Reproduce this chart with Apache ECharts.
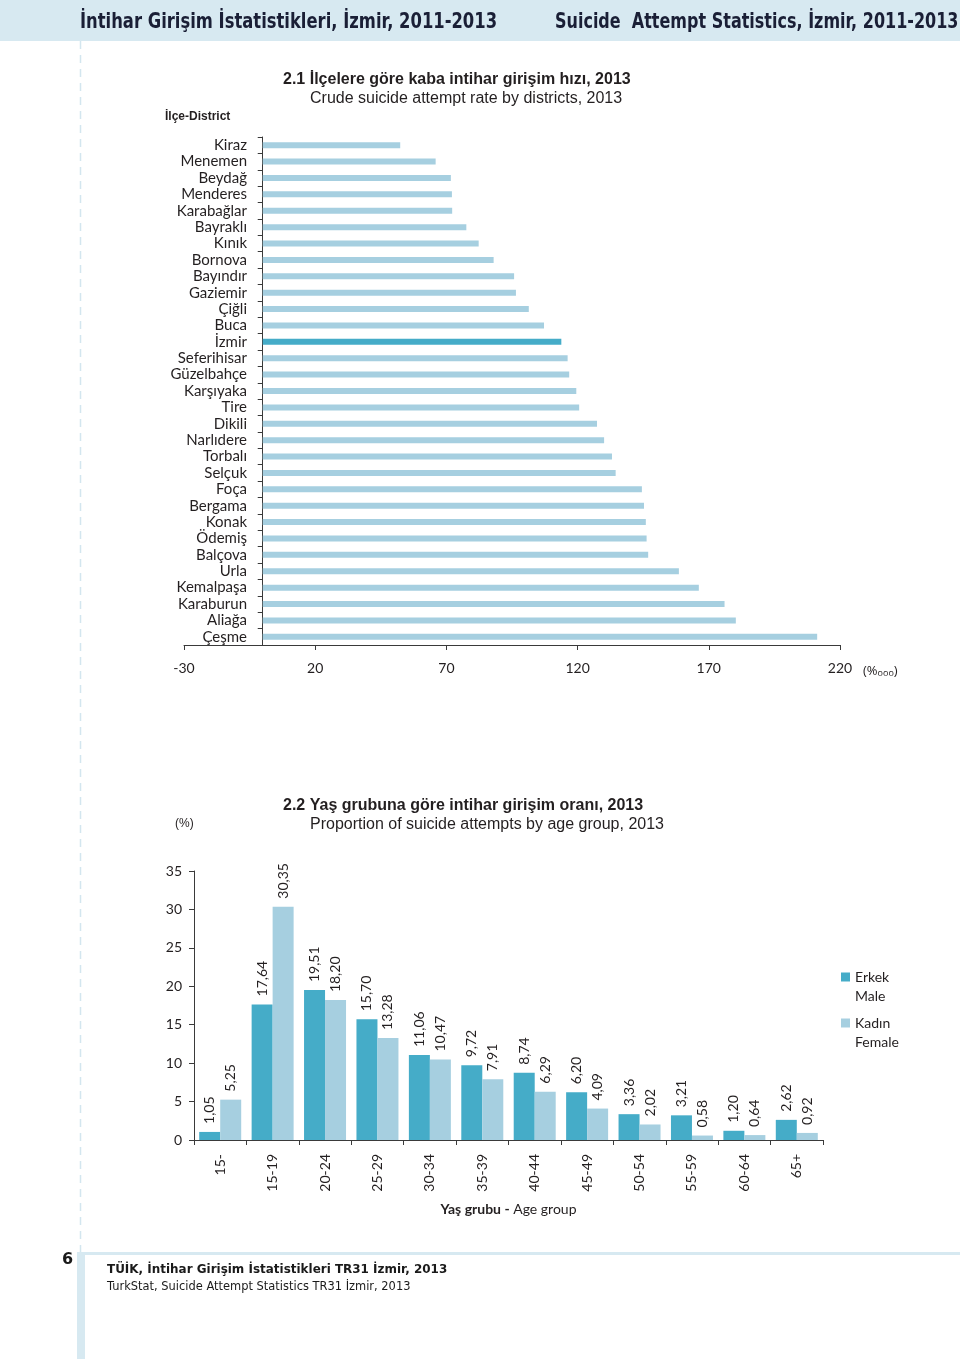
<!DOCTYPE html>
<html>
<head>
<meta charset="utf-8">
<script src="https://cdn.jsdelivr.net/npm/echarts@6/dist/echarts.min.js"></script>
<style>
html,body{margin:0;padding:0;background:#fff;}
#main{width:960px;height:1359px;}
</style>
</head>
<body>
<div id="main"></div>
<script>
// ---- Chart 2.1 data ----
const districts = ['Kiraz','Menemen','Beydağ','Menderes','Karabağlar','Bayraklı','Kınık','Bornova','Bayındır','Gaziemir','Çiğli','Buca','İzmir','Seferihisar','Güzelbahçe','Karşıyaka','Tire','Dikili','Narlıdere','Torbalı','Selçuk','Foça','Bergama','Konak','Ödemiş','Balçova','Urla','Kemalpaşa','Karaburun','Aliağa','Çeşme'];
const rates = [52.4,65.9,71.7,72.1,72.2,77.6,82.3,88.0,95.8,96.5,101.4,107.2,113.8,116.2,116.8,119.5,120.6,127.4,130.1,133.1,134.5,144.5,145.3,146.0,146.3,146.9,158.6,166.2,176.0,180.3,211.3];
const highlightDistrict = 'İzmir';
const rateAxisMin = -30, rateAxisMax = 220, rateAxisStep = 50;

// ---- Chart 2.2 data ----
const ageGroups = ['15-','15-19','20-24','25-29','30-34','35-39','40-44','45-49','50-54','55-59','60-64','65+'];
const male = [1.05,17.64,19.51,15.70,11.06,9.72,8.74,6.20,3.36,3.21,1.20,2.62];
const female = [5.25,30.35,18.20,13.28,10.47,7.91,6.29,4.09,2.02,0.58,0.64,0.92];
const maleName = 'Erkek\nMale';
const femaleName = 'Kadın\nFemale';
const pctAxisMax = 35, pctAxisStep = 5;

const C_LIGHT = '#a6cfe0';
const C_DARK = '#45acc8';
const TXT = '#231f20';
const LBL_FONT = 'Lato';

const chart = echarts.init(document.getElementById('main'), null, {renderer:'canvas'});

const fmt = v => v.toFixed(2).replace('.', ',');

const legendBase = {
  orient: 'vertical', left: 841, padding: 0,
  itemWidth: 9, itemHeight: 9, icon: 'rect', selectedMode: false,
  formatter: name => '\n' + name,
  textStyle: {fontFamily: LBL_FONT, fontSize: 14, color: TXT, lineHeight: 19}
};

const option = {
  backgroundColor: '#ffffff',
  animation: false,
  title: [
    {text: '2.1 İlçelere göre kaba intihar girişim hızı, 2013', left: 283, top: 72, padding: 0,
     textStyle: {fontFamily: 'Liberation Sans', fontWeight: 'bold', fontSize: 16, color: TXT}},
    {text: 'Crude suicide attempt rate by districts, 2013', left: 310, top: 91, padding: 0,
     textStyle: {fontFamily: 'Liberation Sans', fontWeight: 'normal', fontSize: 16, color: TXT}},
    {text: '{b|İlçe}{n|-District}', left: 165, top: 111, padding: 0,
     textStyle: {rich: {b: {fontFamily: 'Liberation Sans', fontWeight: 'bold', fontSize: 12, color: TXT},
                        n: {fontFamily: 'Liberation Sans', fontSize: 12, color: TXT}}}},
    {text: '2.2 Yaş grubuna göre intihar girişim oranı, 2013', left: 283, top: 798, padding: 0,
     textStyle: {fontFamily: 'Liberation Sans', fontWeight: 'bold', fontSize: 16, color: TXT}},
    {text: 'Proportion of suicide attempts by age group, 2013', left: 310, top: 817, padding: 0,
     textStyle: {fontFamily: 'Liberation Sans', fontWeight: 'normal', fontSize: 16, color: TXT}},
    {text: '(%)', left: 175, top: 818, padding: 0,
     textStyle: {fontFamily: 'Liberation Sans', fontWeight: 'normal', fontSize: 12, color: TXT}}
  ],
  legend: [
    Object.assign({}, legendBase, {data: [maleName], top: 977 - 28.5}),
    Object.assign({}, legendBase, {data: [femaleName], top: 1023 - 28.5})
  ],
  grid: [
    {left: 184, top: 137, width: 656, height: 508, containLabel: false},
    {left: 194, top: 871, width: 629, height: 269, containLabel: false}
  ],
  xAxis: [
    {type: 'value', gridIndex: 0, min: rateAxisMin, max: rateAxisMax, interval: rateAxisStep,
     splitLine: {show: false},
     axisLine: {show: true, lineStyle: {color: '#3a3a3a', width: 1}},
     axisTick: {show: true, length: 5, lineStyle: {color: '#3a3a3a'}},
     axisLabel: {margin: 16, fontFamily: LBL_FONT, fontSize: 14, color: TXT}},
    {type: 'category', gridIndex: 1, data: ageGroups,
     axisLine: {show: true, lineStyle: {color: '#3a3a3a', width: 1}},
     axisTick: {show: true, length: 5, lineStyle: {color: '#3a3a3a'}},
     axisLabel: {rotate: 90, interval: 0, margin: 14, fontFamily: LBL_FONT, fontSize: 14, color: TXT},
     name: '{b|Yaş grubu -}{n| Age group}', nameLocation: 'middle', nameGap: 62,
     nameTextStyle: {rich: {b: {fontFamily: LBL_FONT, fontWeight: 'bold', fontSize: 14, color: TXT},
                            n: {fontFamily: LBL_FONT, fontSize: 14, color: TXT}}}}
  ],
  yAxis: [
    {type: 'category', gridIndex: 0, data: districts, inverse: true,
     axisLine: {show: true, onZero: true, lineStyle: {color: '#3a3a3a', width: 1}},
     axisTick: {show: true, length: 5, lineStyle: {color: '#3a3a3a'}},
     axisLabel: {interval: 0, margin: -63, fontFamily: LBL_FONT, fontSize: 15, color: TXT}},
    {type: 'value', gridIndex: 1, min: 0, max: pctAxisMax, interval: pctAxisStep,
     splitLine: {show: false},
     axisLine: {show: true, lineStyle: {color: '#3a3a3a', width: 1}},
     axisTick: {show: true, length: 5, lineStyle: {color: '#3a3a3a'}},
     axisLabel: {margin: 12, fontFamily: LBL_FONT, fontSize: 14, color: TXT}}
  ],
  series: [
    {type: 'bar', xAxisIndex: 0, yAxisIndex: 0, barWidth: 6,
     data: rates.map((v, i) => ({value: v, itemStyle: {color: districts[i] === highlightDistrict ? C_DARK : C_LIGHT}})),
     itemStyle: {color: C_LIGHT}},
    {type: 'bar', name: maleName, xAxisIndex: 1, yAxisIndex: 1, data: male, barWidth: 21, barGap: '0%',
     itemStyle: {color: C_DARK},
     label: {show: true, position: 'top', rotate: 90, align: 'left', verticalAlign: 'middle', distance: 8,
             fontFamily: LBL_FONT, fontSize: 14, color: TXT, formatter: p => fmt(p.value)}},
    {type: 'bar', name: femaleName, xAxisIndex: 1, yAxisIndex: 1, data: female, barWidth: 21, barGap: '0%',
     itemStyle: {color: C_LIGHT},
     label: {show: true, position: 'top', rotate: 90, align: 'left', verticalAlign: 'middle', distance: 8,
             fontFamily: LBL_FONT, fontSize: 14, color: TXT, formatter: p => fmt(p.value)}}
  ],
  graphic: [
    // header band
    {type: 'rect', left: 0, top: 0, shape: {width: 960, height: 41}, style: {fill: '#d7e9f1'}, silent: true},
    {type: 'text', x: 80, y: 23, scaleX: 0.78, originX: 0, originY: 0,
     style: {text: 'İntihar Girişim İstatistikleri, İzmir, 2011-2013', font: 'bold 21px "DejaVu Sans"', fill: '#1a1f36', verticalAlign: 'middle'}},
    {type: 'text', x: 555, y: 23, scaleX: 0.762, originX: 0, originY: 0,
     style: {text: 'Suicide  Attempt Statistics, İzmir, 2011-2013', font: 'bold 21px "DejaVu Sans"', fill: '#1a1f36', verticalAlign: 'middle'}},
    // dashed margin line
    {type: 'line', shape: {x1: 80.5, y1: 41, x2: 80.5, y2: 1252}, style: {stroke: '#d3e6ef', lineWidth: 1.5, lineDash: [8, 6]}, silent: true},
    // (%ooo) unit
    {type: 'text', x: 863, y: 671,
     style: {text: '(%{s|ooo})', font: '13px "Open Sans"', fill: TXT, verticalAlign: 'middle',
             rich: {s: {font: '9px "Open Sans"', fill: TXT, verticalAlign: 'bottom'}}}},
    // footer
    {type: 'rect', left: 85, top: 1252, shape: {width: 875, height: 3}, style: {fill: '#d7e9f1'}, silent: true},
    {type: 'rect', left: 77, top: 1252, shape: {width: 8, height: 107}, style: {fill: '#d7e9f1'}, silent: true},
    {type: 'text', x: 62, y: 1260,
     style: {text: '6', font: 'bold 16px "DejaVu Sans"', fill: '#1a1a1a', verticalAlign: 'middle'}},
    {type: 'text', x: 107, y: 1270, scaleX: 0.92, originX: 0, originY: 0,
     style: {text: 'TÜİK, İntihar Girişim İstatistikleri TR31 İzmir, 2013', font: 'bold 13px "DejaVu Sans"', fill: '#1a1a1a', verticalAlign: 'middle'}},
    {type: 'text', x: 107, y: 1287, scaleX: 0.88, originX: 0, originY: 0,
     style: {text: 'TurkStat, Suicide Attempt Statistics TR31 İzmir, 2013', font: '13px "DejaVu Sans"', fill: '#1a1a1a', verticalAlign: 'middle'}}
  ]
};
chart.setOption(option);
</script>
</body>
</html>
